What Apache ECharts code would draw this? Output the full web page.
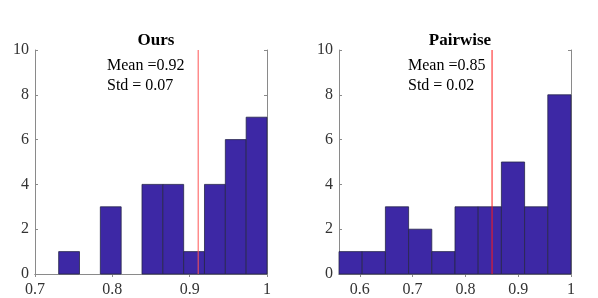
<!DOCTYPE html>
<html><head><meta charset="utf-8">
<script src="https://cdn.jsdelivr.net/npm/echarts@6/dist/echarts.min.js"></script>
<style>html,body{margin:0;padding:0;background:#fff}#c{width:598px;height:298px}</style>
</head><body><div id="c"></div>
<script>
// Data
const oursBinStart = 0.7306, oursBinWidth = 0.02694;
const oursCounts = [1, 0, 3, 0, 4, 4, 1, 4, 6, 7];
const oursMean = 0.911;
const pairBinStart = 0.5607, pairBinWidth = 0.04393;
const pairCounts = [1, 1, 3, 2, 1, 3, 3, 5, 3, 8];
const pairMean = 0.8505;
const oursXTicks = [0.7, 0.8, 0.9, 1];
const pairXTicks = [0.6, 0.7, 0.8, 0.9, 1];
const yTicks = [0, 2, 4, 6, 8, 10];
const titles = ['Ours', 'Pairwise'];
const notes = [['Mean =0.92', 'Std = 0.07'], ['Mean =0.85', 'Std = 0.02']];

const FONT = 'Liberation Serif';
const AX = '#8a8a8a';
function bins(start, w, counts) {
  return counts.map((c, i) => [start + i * w, start + (i + 1) * w, c]).filter(b => b[2] > 0);
}
const grids = [
  { left: 35, top: 50, width: 232, height: 225 },
  { left: 339, top: 50, width: 232, height: 225 }
];
function xAxes(gi, min, max, ticks) {
  return [{
    type: 'value', gridIndex: gi, min, max, position: 'bottom',
    axisLine: { show: true, lineStyle: { color: AX } },
    axisTick: { show: true, inside: true, length: 3, lineStyle: { color: AX }, customValues: ticks },
    axisLabel: { customValues: ticks, fontFamily: FONT, fontSize: 16, color: '#333', margin: 8 },
    splitLine: { show: false }
  }, {
    type: 'value', gridIndex: gi, min, max, position: 'top',
    axisLine: { show: true, lineStyle: { color: AX } },
    axisTick: { show: true, inside: true, length: 3, lineStyle: { color: AX }, customValues: ticks },
    axisLabel: { show: false }, splitLine: { show: false }
  }];
}
function yAxes(gi) {
  return [{
    type: 'value', gridIndex: gi, min: 0, max: 10, interval: 2, position: 'left',
    axisLine: { show: true, lineStyle: { color: AX } },
    axisTick: { show: true, inside: true, length: 3, lineStyle: { color: AX } },
    axisLabel: { fontFamily: FONT, fontSize: 16, color: '#333', margin: 6 },
    splitLine: { show: false }
  }, {
    type: 'value', gridIndex: gi, min: 0, max: 10, interval: 2, position: 'right',
    axisLine: { show: true, lineStyle: { color: AX } },
    axisTick: { show: true, inside: true, length: 3, lineStyle: { color: AX } },
    axisLabel: { show: false }, splitLine: { show: false }
  }];
}
function histSeries(xi, yi, data) {
  return {
    type: 'custom', xAxisIndex: xi, yAxisIndex: yi, data,
    renderItem: function (params, api) {
      const p0 = api.coord([api.value(0), api.value(2)]);
      const p1 = api.coord([api.value(1), 0]);
      return {
        type: 'rect',
        shape: { x: p0[0], y: p0[1], width: p1[0] - p0[0], height: p1[1] - p0[1] },
        style: { fill: '#3d28a5', stroke: '#26264a', lineWidth: 0.8 }
      };
    },
    silent: true, z: 2
  };
}
function meanLine(xi, yi, m, color) {
  return {
    type: 'line', xAxisIndex: xi, yAxisIndex: yi, data: [[m, 0], [m, 10]],
    symbol: 'none', lineStyle: { color, width: 1 }, silent: true, z: 3
  };
}
const chart = echarts.init(document.getElementById('c'));
chart.setOption({
  animation: false,
  grid: grids,
  title: [
    { text: titles[0], left: 151, top: 27, textAlign: 'center', textStyle: { fontFamily: FONT, fontSize: 17, fontWeight: 'bold', color: '#000' } },
    { text: titles[1], left: 455, top: 27, textAlign: 'center', textStyle: { fontFamily: FONT, fontSize: 17, fontWeight: 'bold', color: '#000' } }
  ],
  xAxis: [...xAxes(0, 0.7, 1, oursXTicks), ...xAxes(1, pairBinStart, 1, pairXTicks)],
  yAxis: [...yAxes(0), ...yAxes(1)],
  series: [
    histSeries(0, 0, bins(oursBinStart, oursBinWidth, oursCounts)),
    meanLine(0, 0, oursMean, '#ff5555'),
    histSeries(2, 2, bins(pairBinStart, pairBinWidth, pairCounts)),
    meanLine(2, 2, pairMean, '#ff1a1a')
  ],
  graphic: [
    { type: 'text', left: 107, top: 58, style: { text: notes[0][0], font: '16px "Liberation Serif"', fill: '#000' } },
    { type: 'text', left: 107, top: 78, style: { text: notes[0][1], font: '16px "Liberation Serif"', fill: '#000' } },
    { type: 'text', left: 408, top: 58, style: { text: notes[1][0], font: '16px "Liberation Serif"', fill: '#000' } },
    { type: 'text', left: 408, top: 78, style: { text: notes[1][1], font: '16px "Liberation Serif"', fill: '#000' } }
  ]
});
</script></body></html>
